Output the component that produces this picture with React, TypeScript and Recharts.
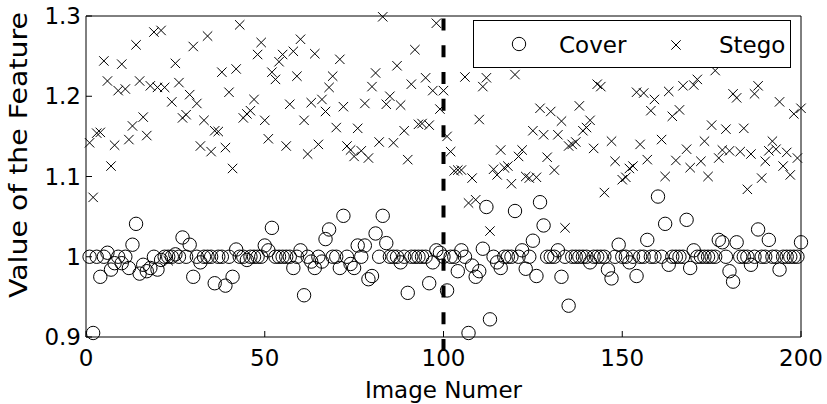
import { ScatterChart, Scatter, XAxis, YAxis, ReferenceLine, Legend } from 'recharts'

// image number runs 1..200, one value per image
const coverValues = [
  1, 0.905, 1, 0.975, 1, 1.005, 0.984, 0.992, 1, 0.992, 1, 0.986, 1.015, 1.041, 0.979, 0.99, 0.982, 0.986, 1, 0.984,
  0.996, 1, 1, 1, 1.003, 1, 1.024, 1, 1.015, 0.975, 1, 0.993, 1, 1, 1, 0.967, 1, 1, 0.964, 1,
  0.975, 1.009, 1, 1, 0.996, 1, 1, 1, 1, 1.014, 1.008, 1.036, 1, 1, 1, 1, 1, 0.986, 1, 1.008,
  0.952, 1, 0.994, 0.986, 1, 0.994, 1.022, 1.034, 1, 1, 0.986, 1.051, 1, 0.991, 0.986, 1.014, 1, 1.014, 0.972, 0.976,
  1.029, 1, 1.051, 1.017, 1, 1, 1, 0.993, 1, 0.955, 1, 1, 1, 1, 1, 0.967, 0.993, 1.008, 1.005, 1,
  0.958, 1, 1, 0.982, 1.008, 1, 0.905, 0.989, 0.975, 0.982, 1.01, 1.062, 0.922, 1, 0.993, 0.986, 1, 1, 1, 1.057,
  1, 1.008, 0.985, 1, 1.02, 0.976, 1.068, 1.039, 1, 1, 1, 1.008, 0.975, 1, 0.939, 1, 1, 1, 1, 1,
  0.993, 1, 1, 1, 1, 0.984, 0.973, 1, 1.015, 1, 1, 0.993, 1, 0.976, 1, 1, 1.021, 1, 1, 1.075,
  1, 1.041, 0.99, 1, 1, 1, 1, 1.046, 0.986, 1.008, 1, 1, 1, 1, 1, 1, 1.021, 1.018, 1, 0.982,
  0.969, 1.018, 1, 1, 1, 0.99, 1, 1.034, 1, 1, 1.021, 1, 1, 0.984, 1, 1, 1, 1, 1, 1.018,
]

const stegoValues = [
  1.142, 1.074, 1.154, 1.155, 1.244, 1.219, 1.113, 1.139, 1.207, 1.24, 1.209, 1.146, 1.163, 1.264, 1.219, 1.174, 1.151, 1.213, 1.28, 1.211,
  1.282, 1.211, 0.995, 1.193, 1.241, 1.217, 1.173, 1.177, 1.202, 1.262, 1.191, 1.138, 1.17, 1.275, 1.131, 1.157, 1.156, 1.23, 1.136, 1.205,
  1.11, 1.234, 1.289, 1.173, 1.178, 1.182, 1.196, 1.252, 1.267, 1.17, 1.147, 1.23, 1.221, 1.243, 1.252, 1.138, 1.19, 1.256, 1.225, 1.271,
  1.17, 1.128, 1.192, 1.253, 1.14, 1.196, 1.181, 1.211, 1.225, 1.161, 1.246, 1.187, 1.138, 1.133, 1.125, 1.16, 1.132, 1.191, 1.123, 1.212,
  1.229, 1.143, 1.299, 1.19, 1.2, 1.142, 1.238, 1.189, 1.157, 1.121, 1.215, 1.258, 1.165, 1.166, 1.223, 1.164, 1.207, 1.291, 1.184, 1.207,
  1.15, 1.131, 1.107, 1.108, 1.108, 1.224, 1.067, 1.098, 1.071, 1.171, 1.212, 1.223, 1.032, 1.109, 1.102, 1.133, 1.111, 1.113, 1.091, 1.227,
  1.125, 1.133, 1.1, 1.098, 1.157, 1.099, 1.185, 1.152, 1.124, 1.181, 1.108, 1.152, 1.169, 1.036, 1.138, 1.14, 1.143, 1.188, 1.157, 1.161,
  1.17, 1.135, 1.215, 1.212, 1.08, 1.265, 1.144, 1.119, 1.262, 1.096, 1.099, 1.11, 1.113, 1.205, 1.14, 1.204, 1.121, 1.182, 1.196, 1.268,
  1.146, 1.1, 1.206, 1.175, 1.12, 1.183, 1.213, 1.134, 1.111, 1.214, 1.221, 1.119, 1.144, 1.1, 1.164, 1.232, 1.123, 1.133, 1.159, 1.132,
  1.203, 1.198, 1.131, 1.16, 1.084, 1.128, 1.203, 1.213, 1.098, 1.119, 1.132, 1.144, 1.134, 1.193, 1.113, 1.13, 1.102, 1.178, 1.123, 1.185,
]

const xTicks = [0, 50, 100, 150, 200]
const yTicks = [0.9, 1, 1.1, 1.2, 1.3]
const splitAt = 100

const coverData = coverValues.map((v, i) => ({ x: i + 1, y: v }))
const stegoData = stegoValues.map((v, i) => ({ x: i + 1, y: v }))

const FONT = '"DejaVu Sans", sans-serif'
const tickStyle = { fontSize: 23, fontFamily: FONT, fill: '#000' }

const Ring = (p: any) => <circle cx={p.cx} cy={p.cy} r={6.7} fill="none" stroke="#000" strokeWidth={1} />

const Cross = (p: any) => {
  const d = 4.7
  return (
    <path
      d={`M${p.cx - d},${p.cy - d}L${p.cx + d},${p.cy + d}M${p.cx - d},${p.cy + d}L${p.cx + d},${p.cy - d}`}
      stroke="#000"
      strokeWidth={1}
      fill="none"
    />
  )
}

const LegendBox = () => (
  <svg width={318} height={48} style={{ display: 'block' }}>
    <rect x={0.5} y={0.5} width={317} height={47} fill="#fff" stroke="#000" />
    <Ring cx={46} cy={24} />
    <text x={86} y={33} fontSize={23} fontFamily={FONT}>Cover</text>
    <Cross cx={203} cy={25} />
    <text x={246} y={33} fontSize={23} fontFamily={FONT}>Stego</text>
  </svg>
)

const YLabel = () => (
  <text
    x={27}
    y={155}
    transform="rotate(-90 27 155)"
    textAnchor="middle"
    fontSize={24}
    fontFamily={FONT}
    textLength={286}
    lengthAdjust="spacingAndGlyphs"
  >
    Value of the Feature
  </text>
)

export default function App() {
  return (
    <div style={{ position: 'absolute', left: 0, top: 0, background: '#fff' }}>
      <ScatterChart width={827} height={404} margin={{ top: 16, right: 26, bottom: 0, left: 0 }}>
        <XAxis
          xAxisId="x"
          dataKey="x"
          type="number"
          domain={[0, 200]}
          ticks={xTicks}
          interval={0}
          height={67}
          tickSize={-6}
          tickMargin={19}
          tick={tickStyle}
          stroke="#000"
          axisLine={{ stroke: '#000' }}
          tickLine={{ stroke: '#000' }}
          label={{ value: 'Image Numer', position: 'insideBottom', offset: 6, fontSize: 23, fontFamily: FONT, fill: '#000' }}
        />
        <XAxis xAxisId="top" orientation="top" type="number" domain={[0, 200]} ticks={xTicks} interval={0} mirror allowDataOverflow tick={false} tickSize={6} axisLine={{ stroke: '#000' }} tickLine={{ stroke: '#000' }} />
        <YAxis
          yAxisId="y"
          dataKey="y"
          type="number"
          domain={[0.9, 1.3]}
          ticks={yTicks}
          interval={0}
          width={86}
          tickSize={-6}
          tickMargin={11}
          tick={tickStyle}
          tickFormatter={(v: number) => String(Number(v.toFixed(1)))}
          axisLine={{ stroke: '#000' }}
          tickLine={{ stroke: '#000' }}
          label={YLabel}
        />
        <YAxis yAxisId="right" orientation="right" type="number" domain={[0.9, 1.3]} ticks={yTicks} interval={0} mirror allowDataOverflow tick={false} tickSize={6} axisLine={{ stroke: '#000' }} tickLine={{ stroke: '#000' }} />
        <Scatter name="Cover" xAxisId="x" yAxisId="y" data={coverData} shape={Ring} isAnimationActive={false} />
        <Scatter name="Stego" xAxisId="x" yAxisId="y" data={stegoData} shape={Cross} isAnimationActive={false} />
        <ReferenceLine
          xAxisId="x"
          yAxisId="y"
          segment={[{ x: splitAt, y: 0.8826 }, { x: splitAt, y: 1.3 }]}
          stroke="#000"
          strokeWidth={4}
          strokeDasharray="12 14.7"
          ifOverflow="visible"
        />
        <Legend
          layout="horizontal"
          verticalAlign="middle"
          align="center"
          content={LegendBox}
          wrapperStyle={{ left: 473, top: 20, width: 318, height: 48 }}
        />
      </ScatterChart>
    </div>
  )
}
